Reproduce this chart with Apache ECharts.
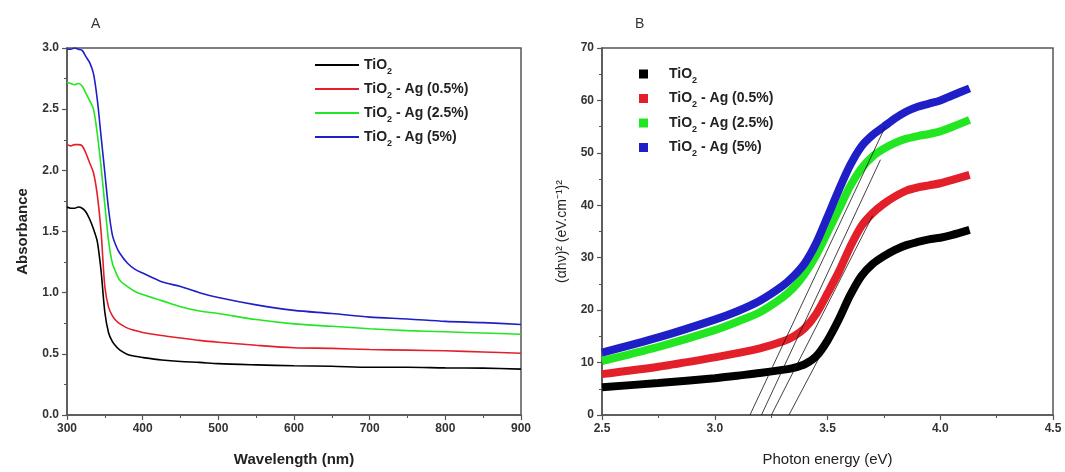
<!DOCTYPE html>
<html>
<head>
<meta charset="utf-8">
<script src="https://cdn.jsdelivr.net/npm/echarts@6/dist/echarts.min.js"></script>
<style>
	html, body { margin: 0; padding: 0; background: #fff; }
	#chart { width: 1065px; height: 472px; }
</style>
</head>
<body>
<div id="chart"></div>
<script>
// panel A: absorbance vs wavelength
const wavelength = [300, 305, 310, 315, 320, 325, 330, 335, 340, 345, 350, 355, 360, 365, 370, 380, 390, 400, 425, 450, 475, 500, 550, 600, 650, 700, 750, 800, 850, 900];
const absTiO2 = [1.70, 1.69, 1.69, 1.70, 1.69, 1.66, 1.60, 1.52, 1.42, 1.18, 0.84, 0.67, 0.60, 0.56, 0.53, 0.495, 0.48, 0.47, 0.45, 0.437, 0.43, 0.42, 0.41, 0.402, 0.398, 0.39, 0.39, 0.385, 0.383, 0.375];
const absAg05 = [2.21, 2.20, 2.21, 2.21, 2.20, 2.14, 2.06, 1.98, 1.80, 1.50, 1.05, 0.88, 0.81, 0.77, 0.745, 0.71, 0.69, 0.675, 0.65, 0.63, 0.61, 0.595, 0.57, 0.55, 0.545, 0.535, 0.53, 0.525, 0.515, 0.505];
const absAg25 = [2.72, 2.71, 2.70, 2.71, 2.69, 2.63, 2.57, 2.50, 2.30, 2.03, 1.72, 1.42, 1.24, 1.16, 1.10, 1.05, 1.01, 0.985, 0.935, 0.885, 0.85, 0.83, 0.78, 0.745, 0.725, 0.705, 0.69, 0.68, 0.67, 0.66];
const absAg5 = [2.99, 2.99, 3.0, 2.99, 2.98, 2.93, 2.88, 2.79, 2.58, 2.28, 1.98, 1.68, 1.47, 1.38, 1.32, 1.24, 1.19, 1.16, 1.09, 1.05, 1.00, 0.96, 0.90, 0.855, 0.83, 0.80, 0.785, 0.765, 0.755, 0.74];

// panel B: tauc plot
const energy = [2.5, 2.75, 3.0, 3.1, 3.2, 3.3, 3.35, 3.4, 3.45, 3.5, 3.55, 3.6, 3.65, 3.7, 3.75, 3.8, 3.85, 3.9, 3.95, 4.0, 4.05, 4.13];
const taucTiO2 = [5.3, 6.1, 7.0, 7.5, 8.0, 8.6, 9.0, 9.7, 11.2, 14.2, 18.2, 22.8, 26.5, 28.8, 30.3, 31.5, 32.4, 33.0, 33.5, 33.8, 34.3, 35.3];
const taucAg05 = [7.8, 9.2, 11.0, 11.8, 12.7, 14.0, 15.0, 16.6, 19.3, 23.2, 27.3, 32.0, 36.0, 38.5, 40.3, 41.7, 42.8, 43.4, 43.8, 44.2, 44.8, 45.8];
const taucAg25 = [10.3, 13.0, 16.2, 17.8, 19.6, 22.4, 24.3, 27.0, 30.5, 34.8, 39.2, 43.6, 47.0, 49.3, 50.8, 51.9, 52.7, 53.2, 53.6, 54.1, 54.9, 56.3];
const taucAg5 = [11.9, 14.8, 18.2, 19.8, 21.8, 24.6, 26.5, 29.0, 32.8, 37.8, 42.9, 47.6, 51.2, 53.4, 55.0, 56.6, 57.9, 58.8, 59.4, 60.0, 60.9, 62.3];

// linear fits to the band edge (start on x axis, end point)
const fitStart = [[3.156, 0], [3.207, 0], [3.251, 0], [3.329, 0]];
const fitEnd = [[3.755, 54.9], [3.735, 48.7], [3.70, 38.0], [3.66, 27.0]];

const names = ["TiO2", "TiO2 - Ag (0.5%)", "TiO2 - Ag (2.5%)", "TiO2 - Ag (5%)"];
const colors = ["#000000", "#e3202a", "#22e622", "#1f1fc8"];

const FONT = "Liberation Sans, Arial, sans-serif";

function zip(xs, ys) {
	return xs.map((x, i) => [x, ys[i]]);
}

// TiO2 -> TiO with subscript 2
function legendFormatter(name) {
	return name.replace("TiO2", "{b|TiO}{s|2}{b|") + "}";
}

function axisCommon(min, max, interval, digits) {
	return {
		type: "value",
		min: min,
		max: max,
		interval: interval,
		axisLine: { show: true, onZero: false, lineStyle: { color: "#555", width: 1.5 } },
		axisTick: { show: true, length: 5, lineStyle: { color: "#555", width: 1.2 } },
		minorTick: { show: true, splitNumber: 2, length: 3, lineStyle: { color: "#555", width: 1 } },
		splitLine: { show: false },
		axisLabel: {
			fontFamily: FONT,
			fontSize: 12,
			fontWeight: "bold",
			color: "#333",
			formatter: v => (digits == null ? v : v.toFixed(digits)),
		},
	};
}

const myChart = echarts.init(document.getElementById("chart"), null, { renderer: "canvas" });

const absSeries = [absTiO2, absAg05, absAg25, absAg5].map((ys, i) => ({
	name: names[i],
	type: "line",
	xAxisIndex: 0,
	yAxisIndex: 0,
	smooth: 0.3,
	symbol: "none",
	lineStyle: { color: colors[i], width: 1.6 },
	itemStyle: { color: colors[i] },
	data: zip(wavelength, ys),
}));

const taucSeries = [taucTiO2, taucAg05, taucAg25, taucAg5].map((ys, i) => ({
	name: names[i],
	type: "line",
	xAxisIndex: 1,
	yAxisIndex: 1,
	smooth: 0.3,
	symbol: "none",
	lineStyle: { color: colors[i], width: 8 },
	itemStyle: { color: colors[i] },
	data: zip(energy, ys),
}));

const fitSeries = fitStart.map((p, i) => ({
	type: "line",
	xAxisIndex: 1,
	yAxisIndex: 1,
	symbol: "none",
	silent: true,
	z: 5,
	lineStyle: { color: "#111", width: 0.8 },
	data: [p, fitEnd[i]],
}));

const richText = {
	b: { fontFamily: FONT, fontSize: 14, fontWeight: "bold", color: "#222" },
	s: { fontFamily: FONT, fontSize: 9, fontWeight: "bold", color: "#222", padding: [13, 0, 0, 0] },
};

myChart.setOption({
	animation: false,
	backgroundColor: "#fff",
	title: [
		{ text: "A", left: 86, top: 12, textStyle: { fontFamily: FONT, fontSize: 14, fontWeight: "normal", color: "#333" } },
		{ text: "B", left: 630, top: 12, textStyle: { fontFamily: FONT, fontSize: 14, fontWeight: "normal", color: "#333" } },
	],
	grid: [
		{ left: 67, right: 544, top: 48, bottom: 57, show: true, borderColor: "#555", borderWidth: 1.5 },
		{ left: 602, right: 12, top: 48, bottom: 57, show: true, borderColor: "#555", borderWidth: 1.5 },
	],
	legend: [
		{
			orient: "vertical",
			left: 310,
			top: 53,
			itemWidth: 44,
			itemHeight: 2,
			itemGap: 6,
			data: names.map((n, i) => ({ name: n, icon: "rect", itemStyle: { color: colors[i] } })),
			formatter: legendFormatter,
			textStyle: { rich: richText },
		},
		{
			orient: "vertical",
			left: 634,
			top: 62,
			itemWidth: 9,
			itemHeight: 9,
			itemGap: 6.5,
			data: names.map((n, i) => ({ name: n, icon: "rect", itemStyle: { color: colors[i] } })),
			formatter: legendFormatter,
			textStyle: { padding: [0, 0, 0, 16], rich: richText },
		},
	],
	xAxis: [
		Object.assign(axisCommon(300, 900, 100, null), {
			gridIndex: 0,
			name: "Wavelength (nm)",
			nameLocation: "middle",
			nameGap: 37,
			nameTextStyle: { fontFamily: FONT, fontSize: 15, fontWeight: "bold", color: "#222" },
		}),
		Object.assign(axisCommon(2.5, 4.5, 0.5, 1), {
			gridIndex: 1,
			name: "Photon energy (eV)",
			nameLocation: "middle",
			nameGap: 37,
			nameTextStyle: { fontFamily: FONT, fontSize: 15, fontWeight: "normal", color: "#222" },
		}),
	],
	yAxis: [
		Object.assign(axisCommon(0, 3, 0.5, 1), {
			gridIndex: 0,
			name: "Absorbance",
			nameLocation: "middle",
			nameGap: 37,
			nameTextStyle: { fontFamily: FONT, fontSize: 15, fontWeight: "bold", color: "#222" },
		}),
		Object.assign(axisCommon(0, 70, 10, null), {
			gridIndex: 1,
			name: "(αhν)² (eV.cm⁻¹)²",
			nameLocation: "middle",
			nameGap: 33,
			nameTextStyle: { fontFamily: FONT, fontSize: 14, fontWeight: "normal", color: "#222" },
		}),
	],
	series: absSeries.concat(taucSeries, fitSeries),
});

window.onresize = function () {
	myChart.resize();
};
</script>
</body>
</html>
